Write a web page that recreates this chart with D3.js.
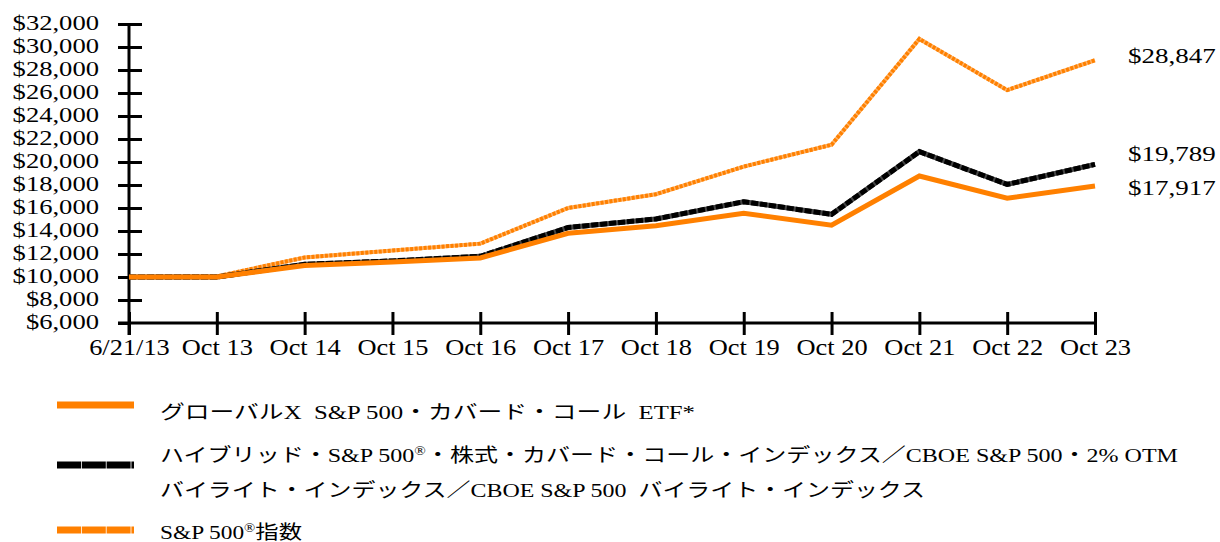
<!DOCTYPE html>
<html>
<head>
<meta charset="utf-8">
<script src="https://cdn.jsdelivr.net/npm/d3@7"></script>
<style>
  body { margin: 0; background: #fff; }
  text { font-family: "Liberation Serif", "Noto Sans CJK JP", serif; fill: #000; }
</style>
</head>
<body>
<div class="chart"></div>
<script>
//Width and height
var w = 1220;
var h = 542;

//Data
var categories = ["6/21/13", "Oct 13", "Oct 14", "Oct 15", "Oct 16", "Oct 17", "Oct 18", "Oct 19", "Oct 20", "Oct 21", "Oct 22", "Oct 23"];
var sp500 = [10000, 10050, 11700, 12300, 12900, 16000, 17200, 19600, 21500, 30700, 26250, 28847];
var hybrid = [10000, 10000, 11100, 11400, 11800, 14300, 15050, 16550, 15450, 20900, 18050, 19789];
var etf = [10000, 10000, 11000, 11300, 11650, 13800, 14450, 15550, 14500, 18780, 16850, 17917];
var yTicks = [6000, 8000, 10000, 12000, 14000, 16000, 18000, 20000, 22000, 24000, 26000, 28000, 30000, 32000];
var endLabels = ["$28,847", "$19,789", "$17,917"];
var legendLines = [
    "グローバルX\u00a0\u00a0S&P 500・カバード・コール\u00a0\u00a0ETF*",
    ["ハイブリッド・S&P 500", "®", "・株式・カバード・コール・インデックス／CBOE S&P 500・2% OTM"],
    "バイライト・インデックス／CBOE S&P 500\u00a0\u00a0バイライト・インデックス",
    ["S&P 500", "®", "指数"]
];

var orange = "#ff8000";

//Create SVG element
var svg = d3.select(".chart")
    .append("svg")
    .attr("width", w)
    .attr("height", h);

//Scales
var xScale = d3.scalePoint()
    .domain(categories)
    .range([129, 1095]);

var yScale = d3.scaleLinear()
    .domain([6000, 32000])
    .range([323, 24]);

var fmt = d3.format(",");

//Y axis (ticks cross the line)
var yAxis = svg.append("g")
    .attr("transform", "translate(129,0)")
    .call(d3.axisLeft(yScale).tickValues(yTicks).tickSize(11).tickSizeOuter(0));
svg.append("g")
    .attr("transform", "translate(129,0)")
    .call(d3.axisRight(yScale).tickValues(yTicks.slice(1)).tickSize(13).tickSizeOuter(0).tickFormat(""))
    .select(".domain").remove();
yAxis.select(".domain").attr("d", "M0,24V335");
svg.selectAll("g line, g .domain").attr("stroke", "#000").attr("stroke-width", 3);
yAxis.selectAll("text")
    .attr("x", null).attr("dy", null)
    .attr("transform", "translate(-30,5) scale(1.33,1)")
    .attr("text-anchor", "end")
    .style("font-size", "20px")
    .style("font-family", "Liberation Serif")
    .text(d => "$" + fmt(d));

//X axis
var xAxis = svg.append("g")
    .attr("transform", "translate(0,323)")
    .call(d3.axisBottom(xScale).tickSize(12).tickSizeOuter(0));
svg.append("g")
    .attr("transform", "translate(0,323)")
    .call(d3.axisTop(xScale).tickSize(11).tickSizeOuter(0).tickFormat(""))
    .select(".domain").remove();
xAxis.select(".domain").attr("d", "M118,0H1097");
svg.selectAll("g line, g .domain").attr("stroke", "#000").attr("stroke-width", 3);
xAxis.selectAll("text")
    .attr("y", null).attr("dy", null)
    .attr("transform", "translate(0,32) scale(1.1,1)")
    .style("font-size", "24px")
    .style("font-family", "Liberation Serif");

//Lines
var line = d3.line()
    .x((d, i) => xScale(categories[i]))
    .y(d => yScale(d));

//S&P 500 index: dotted orange
svg.append("path").attr("d", line(sp500))
    .attr("fill", "none").attr("stroke", "#ffb366").attr("stroke-width", 4);
svg.append("path").attr("d", line(sp500))
    .attr("fill", "none").attr("stroke", orange).attr("stroke-width", 4)
    .attr("stroke-dasharray", "3,1.5");

//Hybrid index: black dashed
svg.append("path").attr("d", line(hybrid))
    .attr("fill", "none").attr("stroke", "#444").attr("stroke-width", 5);
svg.append("path").attr("d", line(hybrid))
    .attr("fill", "none").attr("stroke", "#000").attr("stroke-width", 5)
    .attr("stroke-dasharray", "7,2");

//Global X ETF: solid orange
svg.append("path").attr("d", line(etf))
    .attr("fill", "none").attr("stroke", orange).attr("stroke-width", 5)
    .attr("stroke-linejoin", "miter");

//End labels
var endY = [56, 154, 188];
endLabels.forEach((t, i) => {
    svg.append("text")
        .attr("transform", "translate(1128," + (endY[i] + 7) + ") scale(1.35,1)")
        .style("font-size", "20px")
        .style("font-family", "Liberation Serif")
        .text(t);
});

//Legend
var legend = svg.append("g");
var swatchY = [405, 465, 530];
legend.append("line").attr("x1", 57).attr("x2", 134).attr("y1", swatchY[0]).attr("y2", swatchY[0])
    .attr("stroke", orange).attr("stroke-width", 7);
legend.append("line").attr("x1", 57).attr("x2", 134).attr("y1", swatchY[1]).attr("y2", swatchY[1])
    .attr("stroke", "#000").attr("stroke-width", 7).attr("stroke-dasharray", "24,0.8");
legend.append("line").attr("x1", 57).attr("x2", 134).attr("y1", swatchY[2]).attr("y2", swatchY[2])
    .attr("stroke", orange).attr("stroke-width", 7).attr("stroke-dasharray", "24,0.8");

var lineBase = [419, 462, 497, 539];
var lineEnd = [695, 1178, 925, 302];
legendLines.forEach((t, i) => {
    var txt = legend.append("text")
        .attr("x", 160)
        .attr("y", lineBase[i])
        .style("font-size", "19px")
        .attr("textLength", lineEnd[i] - 160)
        .attr("lengthAdjust", "spacingAndGlyphs");
    if (typeof t === "string") {
        txt.text(t);
    } else {
        txt.append("tspan").text(t[0]);
        txt.append("tspan").attr("dy", -7).style("font-size", "12px").text(t[1]);
        txt.append("tspan").attr("dy", 7).text(t[2]);
    }
});
</script>
</body>
</html>
